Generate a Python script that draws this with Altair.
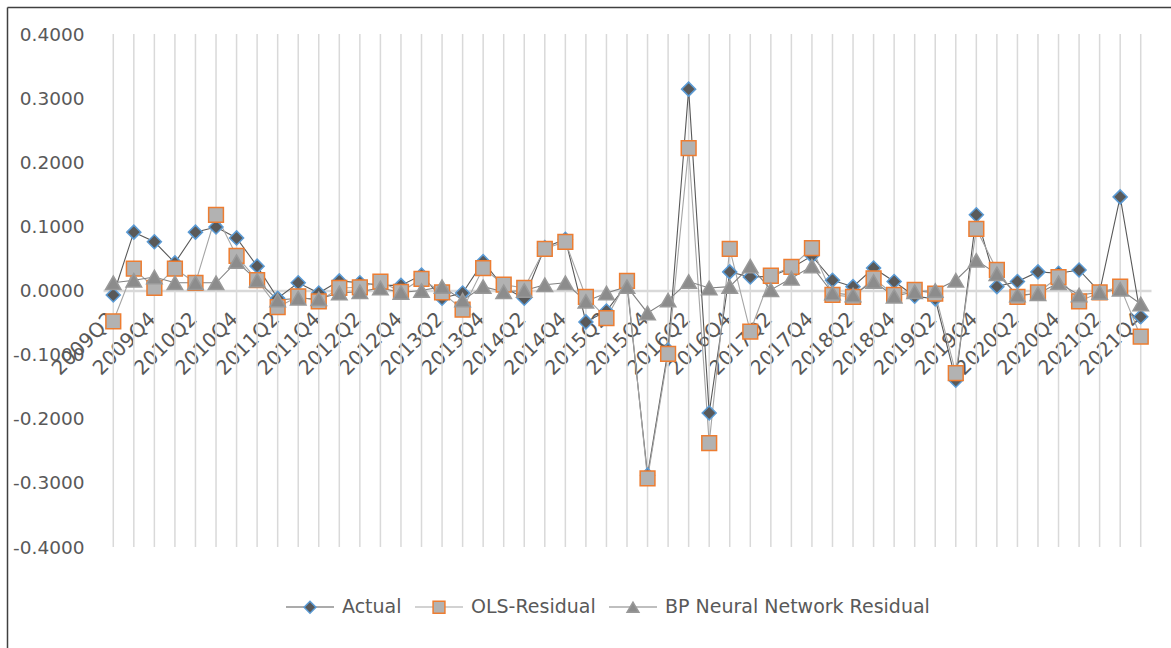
import altair as alt
import pandas as pd

# Quarterly periods 2009Q2 .. 2021Q4
quarters = [f"{y}Q{q}" for y in range(2009, 2022) for q in range(1, 5)][1:]

series_names = ["Actual", "OLS-Residual", "BP Neural Network Residual"]

actual = [-0.007, 0.091, 0.076, 0.043, 0.091, 0.099, 0.082, 0.038, -0.012, 0.012,
          -0.004, 0.015, 0.012, 0.008, 0.008, 0.024, -0.012, -0.004, 0.045, 0.005,
          -0.012, 0.067, 0.080, -0.049, -0.032, 0.010, -0.288, -0.093, 0.314, -0.191,
          0.029, 0.021, 0.022, 0.035, 0.054, 0.016, 0.006, 0.035, 0.014, -0.009,
          -0.013, -0.140, 0.118, 0.006, 0.014, 0.029, 0.027, 0.032, -0.002, 0.146,
          -0.041]

ols_residual = [-0.048, 0.034, 0.004, 0.034, 0.012, 0.118, 0.054, 0.016, -0.026, -0.009,
                -0.017, 0.004, 0.005, 0.014, -0.002, 0.018, -0.003, -0.030, 0.035, 0.009,
                0.004, 0.065, 0.076, -0.010, -0.043, 0.015, -0.293, -0.099, 0.222, -0.238,
                0.065, -0.064, 0.023, 0.037, 0.066, -0.007, -0.010, 0.019, -0.007, 0.001,
                -0.005, -0.129, 0.096, 0.032, -0.010, -0.003, 0.021, -0.017, -0.003, 0.006,
                -0.072]

bp_residual = [0.012, 0.016, 0.021, 0.012, 0.012, 0.012, 0.045, 0.016, -0.015, -0.012,
               -0.013, -0.004, -0.002, 0.004, -0.003, 0.000, 0.006, -0.015, 0.006, -0.002,
               0.000, 0.009, 0.012, -0.017, -0.004, 0.006, -0.035, -0.015, 0.014, 0.004,
               0.006, 0.038, 0.001, 0.019, 0.038, -0.004, -0.007, 0.014, -0.009, -0.002,
               0.000, 0.016, 0.047, 0.026, -0.007, -0.005, 0.012, -0.007, -0.003, 0.002,
               -0.021]

y_ticks = [-0.4, -0.3, -0.2, -0.1, 0.0, 0.1, 0.2, 0.3, 0.4]

line_colors = ["#595959", "#a5a5a5", "#808080"]
marker_fills = ["#595959", "#b2b2b2", "#8c8c8c"]
marker_strokes = ["#5b9bd5", "#ed7d31", "#999999"]
marker_shapes = ["diamond", "square", "triangle-up"]

W, H = 1048, 513
FONT = "DejaVu Sans"
TEXT = "#595959"

rows = []
for name, vals in zip(series_names, [actual, ols_residual, bp_residual]):
    for q, v in zip(quarters, vals):
        rows.append({"quarter": q, "series": name, "value": v})
df = pd.DataFrame(rows)
df_q = pd.DataFrame({"quarter": quarters})

x_enc = alt.X(
    "quarter:O",
    sort=quarters,
    scale=alt.Scale(type="point", padding=0.5),
    axis=alt.Axis(
        title=None,
        offset=-H / 2,
        grid=False,
        ticks=False,
        domainColor="#d9d9d9",
        domainWidth=2.5,
        labelAngle=-45,
        labelAlign="right",
        labelBaseline="middle",
        labelPadding=25,
        labelOffset=-2,
        labelFont=FONT,
        labelFontSize=20,
        labelColor=TEXT,
        labelOverlap=False,
        labelBound=False,
        labelExpr="(indexof(datum.label, 'Q2') > 0 || indexof(datum.label, 'Q4') > 0) ? datum.label : ''",
    ),
)

y_enc = alt.Y(
    "value:Q",
    scale=alt.Scale(domain=[-0.4, 0.4], nice=False, zero=False),
    axis=alt.Axis(
        title=None,
        values=y_ticks,
        grid=False,
        ticks=False,
        domain=False,
        labelPadding=19,
        labelFont=FONT,
        labelFontSize=18.5,
        labelColor=TEXT,
        labelExpr="replace(format(datum.value, '.4f'), '\u2212', '-')",
    ),
)

# vertical category gridlines
grid = alt.Chart(df_q).mark_rule(color="#d9d9d9", strokeWidth=1.5).encode(
    x=x_enc, y=alt.value(0), y2=alt.value(H)
)

# one line layer per series; each carries the line swatch of its legend entry
swatch_x = [182, 311, 505]
line_layers = []
for name, color, lx in zip(series_names, line_colors, swatch_x):
    line_layers.append(
        alt.Chart(df)
        .transform_filter(alt.datum.series == name)
        .mark_line(strokeWidth=1.1)
        .encode(
            x=x_enc, y=y_enc,
            stroke=alt.Stroke(
                "series:N",
                scale=alt.Scale(domain=[name], range=[color]),
                legend=alt.Legend(
                    title=None, orient="none", legendX=lx, legendY=548,
                    symbolType="stroke", symbolSize=2304, symbolStrokeWidth=1.2,
                    labelExpr="''", labelFontSize=19, padding=0,
                ),
            ),
        )
    )

marker_legend = alt.Legend(
    title=None, orient="none", legendX=189, legendY=563.5, direction="horizontal",
    symbolSize=140, symbolStrokeWidth=1.5, symbolOffset=8.5, labelOffset=22.5,
    labelFont=FONT, labelFontSize=19, labelColor=TEXT, labelLimit=600,
    columnPadding=19, padding=0,
)
points = alt.Chart(df).mark_point(filled=True, opacity=1, strokeWidth=1.5).encode(
    x=x_enc, y=y_enc,
    fill=alt.Fill("series:N", sort=series_names,
                  scale=alt.Scale(domain=series_names, range=marker_fills),
                  legend=marker_legend),
    stroke=alt.Stroke("series:N", sort=series_names,
                      scale=alt.Scale(domain=series_names, range=marker_strokes),
                      legend=marker_legend),
    shape=alt.Shape("series:N", sort=series_names,
                    scale=alt.Scale(domain=series_names, range=marker_shapes),
                    legend=marker_legend),
    size=alt.Size("series:N", sort=series_names,
                  scale=alt.Scale(domain=series_names, range=[196, 240, 250]),
                  legend=None),
)

# outer chart frame (left and top edges)
one = pd.DataFrame({"k": [0]})
frame_left = alt.Chart(one).mark_rule(color="#404040", strokeWidth=1.5, clip=False).encode(
    x=alt.value(-95.5), y=alt.value(-26.5), y2=alt.value(H + 101)
)
frame_top = alt.Chart(one).mark_rule(color="#404040", strokeWidth=1.5, clip=False).encode(
    y=alt.value(-26.5), x=alt.value(-95.5), x2=alt.value(W + 20)
)

chart = (
    alt.layer(grid, *line_layers, points, frame_left, frame_top)
    .resolve_scale(stroke="independent", fill="independent", shape="independent")
    .properties(
        width=W, height=H,
        autosize=alt.AutoSizeParams(type="none"),
        padding={"left": 103, "top": 34, "right": 20, "bottom": 101},
        background="white",
    )
    .configure_view(stroke=None)
)

chart.save("out.html", embed_options={"renderer": "svg", "actions": False})
